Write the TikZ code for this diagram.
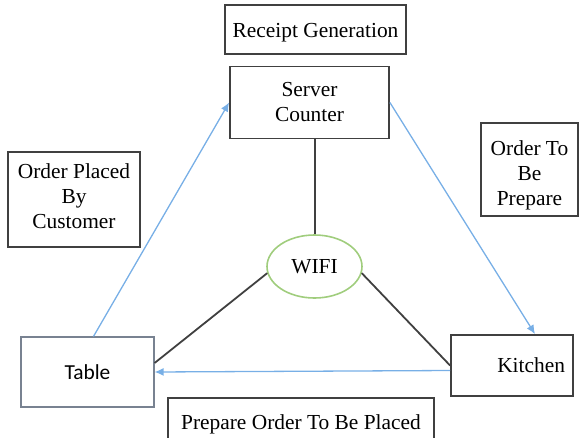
\documentclass[tikz,border=0pt]{standalone}
\usepackage{fontspec}
\newfontfamily\serifx{Liberation Serif}
\newfontfamily\calib{Carlito}
\usetikzlibrary{arrows.meta,shapes.geometric}
\definecolor{boxline}{RGB}{64,64,64}
\definecolor{flowblue}{RGB}{120,175,230}
\definecolor{wifigreen}{RGB}{160,205,125}
\definecolor{tableline}{RGB}{120,130,145}
\tikzset{
  txt/.style={font=\serifx\fontsize{21.4}{25}\selectfont,align=center,inner sep=0pt},
  frame/.style={draw=boxline,line width=1.8pt,inner sep=0pt},
  lbl/.style={txt,frame},
  link/.style={draw=boxline,line width=1.8pt},
  flow/.style={draw=flowblue,line width=1.3pt,-{Latex[length=9pt,width=8pt]}},
}
\begin{document}
\begin{tikzpicture}[x=1pt,y=-1pt]
\useasboundingbox (0,0) rectangle (584,437);
\clip (0,0) rectangle (584,437);
\node[frame,minimum width=181,minimum height=49] (receipt) at (315.5,29.5) {};
\node[txt] (receipttext) at (315.5,33) {Receipt Generation};
\node[lbl,minimum width=159,minimum height=72] (server) at (309.5,102.5) {Server\\Counter};
\node[frame,minimum width=97,minimum height=93] (prep) at (529.5,169.5) {};
\node[txt] (preptext) at (529.5,175) {Order To\\Be\\Prepare};
\node[frame,minimum width=132,minimum height=95] (placed) at (74,199.5) {};
\node[txt] (placedtext) at (74,196) {Order Placed\\By\\Customer};
\node[draw=tableline,line width=1.2pt,minimum width=133,minimum height=70,inner sep=0pt,
  font=\calib\fontsize{21.4}{25}\selectfont] (table) at (87.5,372) {Table};
\node[txt,frame,text width=106,inner xsep=8pt,inner ysep=0pt,
  minimum height=61,align=right] (kitchen) at (512,365.5) {Kitchen};
\node[txt,draw=wifigreen,line width=1.6pt,ellipse,minimum width=95,minimum height=63] (wifi) at (314.5,266.5) {WIFI};
\node[frame,minimum width=266,minimum height=56,anchor=north] (prepare) at (301,397) {};
\node[txt] (preparetext) at (301,424) {Prepare Order To Be Placed};
% network links
\draw[link] ([xshift=0.5pt]wifi.north |- server.south) -- ([xshift=0.5pt]wifi.north);
\draw[link] (wifi.188) -- ([yshift=9pt]table.east);
\draw[link] (wifi.-8) -- (kitchen.west);
% flow arrows
\draw[flow] ([xshift=6pt]table.north) -- (server.west);
\draw[flow] (server.east) -- ([xshift=23pt]kitchen.north);
\draw[flow] ([yshift=-5pt]kitchen.west) -- (table.east);
\end{tikzpicture}
\end{document}
